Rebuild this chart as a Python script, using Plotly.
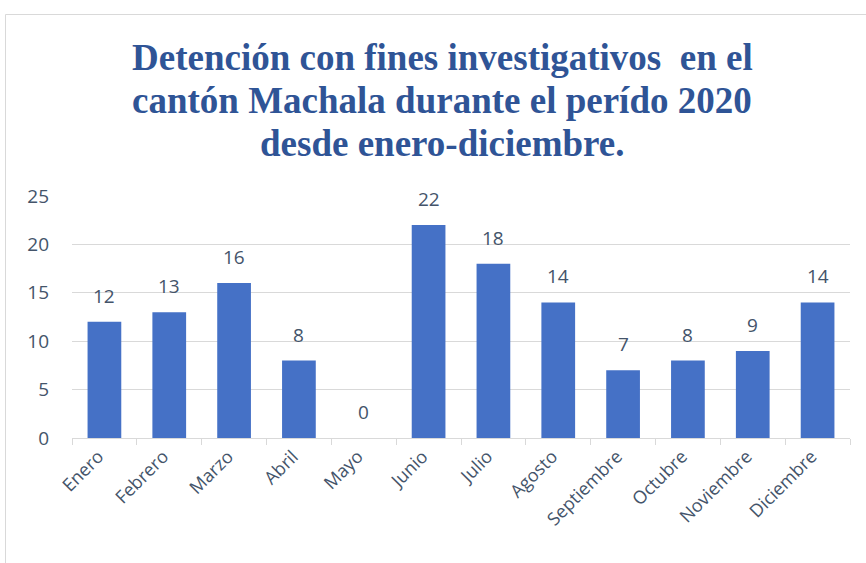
import plotly.graph_objects as go

months = ["Enero", "Febrero", "Marzo", "Abril", "Mayo", "Junio", "Julio",
          "Agosto", "Septiembre", "Octubre", "Noviembre", "Diciembre"]
detenciones = [12, 13, 16, 8, 0, 22, 18, 14, 7, 8, 9, 14]
y_ticks = [0, 5, 10, 15, 20, 25]

title_lines = ["Detención con fines investigativos  en el",
               "cantón Machala durante el perído 2020",
               "desde enero-diciembre."]

label_color = "#44546A"
font_fam = "Open Sans, Liberation Sans, sans-serif"

fig = go.Figure()
fig.add_trace(go.Bar(
    x=months, y=detenciones, width=0.52,
    marker=dict(color="#4571C6", line=dict(width=0)),
    hoverinfo="x+y",
))

for m, v in zip(months, detenciones):
    fig.add_annotation(x=m, y=v, text=str(v), showarrow=False, yshift=26,
                       font=dict(family=font_fam, size=19, color=label_color))

W, H = 866, 563
ml, mr, mt, mb = 72, 16, 196, 125
pw, ph = W - ml - mr, H - mt - mb
def px(x): return (x - ml) / pw
def py(y): return (H - mb - y) / ph

for line, yc in zip(title_lines, [57, 100, 143]):
    fig.add_annotation(xref="paper", yref="paper", x=px(442), y=py(yc),
                       xanchor="center", yanchor="middle", showarrow=False,
                       text="<b>" + line + "</b>",
                       font=dict(family="Liberation Serif, Times New Roman, serif",
                                 size=37, color="#2F5496"))

fig.add_shape(type="rect", xref="paper", yref="paper",
              x0=px(5.5), x1=px(880), y0=py(14.5), y1=py(580),
              line=dict(color="#D9D9D9", width=1), fillcolor="rgba(0,0,0,0)",
              layer="below")

fig.update_layout(
    width=W, height=H,
    margin=dict(l=ml, r=mr, t=mt, b=mb),
    paper_bgcolor="white", plot_bgcolor="white",
    showlegend=False,
    xaxis=dict(
        tickangle=-45, ticks="outside", tickson="boundaries", ticklen=6,
        tickcolor="#D9D9D9", showline=True, linecolor="#D9D9D9", linewidth=1,
        showgrid=False, automargin=False, ticklabelshift=-6,
        tickfont=dict(family=font_fam, size=18, color=label_color),
    ),
    yaxis=dict(
        range=[0, 25], tickvals=y_ticks, showgrid=True, gridcolor="#D9D9D9",
        gridwidth=1, zeroline=False, showline=False, automargin=False,
        tickfont=dict(family=font_fam, size=19, color=label_color),
        ticklabelstandoff=22,
    ),
    bargap=0.48,
)

fig.write_html("out.html", config={"displayModeBar": False},
               post_script="document.body.style.margin='0px';")
